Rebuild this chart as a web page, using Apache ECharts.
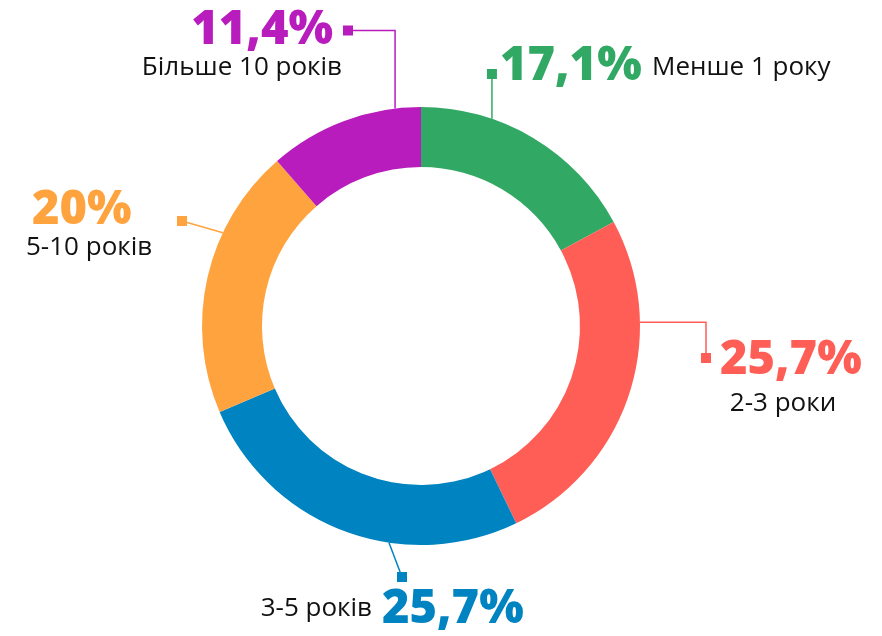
<!DOCTYPE html>
<html>
<head>
<meta charset="utf-8">
<script src="https://cdn.jsdelivr.net/npm/echarts@6/dist/echarts.min.js"></script>
<style>
  html, body { margin: 0; padding: 0; background: #fff; }
  #chart { width: 882px; height: 636px; }
</style>
</head>
<body>
<div id="chart"></div>
<script>
// дані
const categories = ['Менше 1 року', '2-3 роки', '3-5 років', '5-10 років', 'Більше 10 років']
const percents = [17.1, 25.7, 25.7, 20, 11.4]
const colors = ['#31a964', '#ff5e56', '#0083c1', '#ffa33f', '#b81cbd']

// геометрія кільця
const cx = 421, cy = 326, rIn = 159, rOut = 219

// вивідні лінії: кут старту на зовнішньому краї + злами (null = без змін)
const leaders = [
  { angle: 71.1, path: [[null, 74]] },
  { angle: 1, path: [[706, null], [null, 358]] },
  { angle: -98.4, path: [[402, 577]] },
  { angle: 154.8, path: [[182, 221]] },
  { angle: 96.8, path: [[null, 30.5], [348, null]] }
]

// позиції підписів
const pctPos = [
  { x: 500, y: 67, align: 'left' },
  { x: 720, y: 361, align: 'left' },
  { x: 382, y: 610, align: 'left' },
  { x: 32, y: 211, align: 'left' },
  { x: 333, y: 31, align: 'right' }
]
const namePos = [
  { x: 652, y: 68, align: 'left' },
  { x: 783, y: 404, align: 'center' },
  { x: 372, y: 609, align: 'right' },
  { x: 26, y: 248, align: 'left' },
  { x: 342, y: 68, align: 'right' }
]

const fmtPct = v => String(v).replace('.', ',') + '%'

const linePoints = leaders.map(l => {
  const a = l.angle * Math.PI / 180
  const pts = [[cx + rOut * Math.cos(a), cy - rOut * Math.sin(a)]]
  l.path.forEach(p => {
    const last = pts[pts.length - 1]
    pts.push([p[0] == null ? last[0] : p[0], p[1] == null ? last[1] : p[1]])
  })
  return pts
})

const chart = echarts.init(document.getElementById('chart'))

const dataMain = categories.map((name, i) => ({
  name,
  value: percents[i],
  itemStyle: { color: colors[i] },
  label: { color: colors[i] },
  labelLine: { lineStyle: { color: colors[i] } }
}))

const dataNames = categories.map((name, i) => ({ name, value: percents[i] }))

chart.setOption({
  animation: false,
  graphic: linePoints.map((pts, i) => {
    const end = pts[pts.length - 1]
    return {
      type: 'rect',
      shape: { x: end[0] - 5, y: end[1] - 5, width: 10, height: 10 },
      style: { fill: colors[i] },
      z: 100
    }
  }),
  series: [
    {
      type: 'pie',
      center: [cx, cy],
      radius: [rIn, rOut],
      startAngle: 90,
      clockwise: true,
      avoidLabelOverlap: false,
      silent: true,
      data: dataMain,
      label: {
        show: true,
        position: 'outside',
        formatter: p => fmtPct(p.value),
        fontFamily: 'Open Sans',
        fontWeight: 800,
        fontSize: 47
      },
      labelLine: {
        show: true,
        lineStyle: { width: 1.5 }
      },
      labelLayout: params => {
        const i = params.dataIndex
        return {
          x: pctPos[i].x,
          y: pctPos[i].y,
          align: pctPos[i].align,
          verticalAlign: 'middle',
          labelLinePoints: linePoints[i]
        }
      }
    },
    {
      type: 'pie',
      center: [cx, cy],
      radius: [rIn, rOut],
      startAngle: 90,
      clockwise: true,
      avoidLabelOverlap: false,
      silent: true,
      data: dataNames,
      itemStyle: { color: 'rgba(0,0,0,0)' },
      label: {
        show: true,
        position: 'outside',
        formatter: '{b}',
        color: '#111',
        fontFamily: 'Open Sans',
        fontSize: 26
      },
      labelLine: { show: false },
      labelLayout: params => {
        const i = params.dataIndex
        return {
          x: namePos[i].x,
          y: namePos[i].y,
          align: namePos[i].align,
          verticalAlign: 'middle'
        }
      }
    }
  ]
})
</script>
</body>
</html>
